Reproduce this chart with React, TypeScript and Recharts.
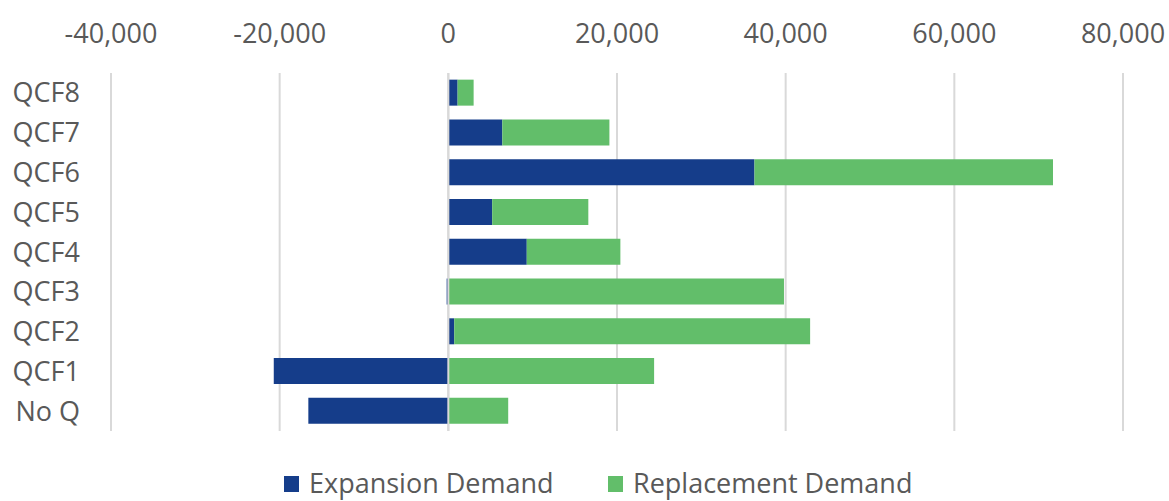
import React from 'react';
import {
  BarChart,
  Bar,
  XAxis,
  YAxis,
  CartesianGrid,
  Legend,
  ReferenceLine,
} from 'recharts';

const categories = ['QCF8', 'QCF7', 'QCF6', 'QCF5', 'QCF4', 'QCF3', 'QCF2', 'QCF1', 'No Q'];
const expansionDemand = [1100, 6400, 36300, 5200, 9300, -200, 700, -20700, -16600];
const replacementDemand = [1900, 12700, 35400, 11400, 11100, 39800, 42200, 24400, 7100];
const xTicks = [-40000, -20000, 0, 20000, 40000, 60000, 80000];

const seriesNames = ['Expansion Demand', 'Replacement Demand'];
const BLUE = '#153D8A';
const GREEN = '#62BE6A';
const TEXT = '#595959';
const GRID = '#D9D9D9';
const FONT = '"Open Sans", sans-serif';

const data = categories.map((name, i) => ({
  name,
  expansion: expansionDemand[i],
  replacement: replacementDemand[i],
}));

const fmt = (v: number) => v.toLocaleString('en-US');

const LegendContent = () => (
  <div style={{ position: 'relative', width: 1169, height: 36, fontFamily: FONT, fontSize: 27, color: TEXT }}>
    {[
      { label: seriesNames[0], color: BLUE, left: 284 },
      { label: seriesNames[1], color: GREEN, left: 608 },
    ].map((it) => (
      <div key={it.label} style={{ position: 'absolute', left: it.left, top: 0, height: 36, display: 'flex', alignItems: 'center' }}>
        <span style={{ display: 'inline-block', width: 15, height: 16, background: it.color, marginRight: 10, marginTop: 2 }} />
        <span style={{ lineHeight: '36px', whiteSpace: 'nowrap' }}>{it.label}</span>
      </div>
    ))}
  </div>
);

export default function App() {
  return (
    <div style={{ position: 'absolute', left: 0, top: 0, width: 1169, height: 501, background: '#fff' }}>
      <BarChart
        width={1169}
        height={501}
        data={data}
        layout="vertical"
        stackOffset="sign"
        barCategoryGap="16.7%"
        margin={{ top: 0, right: 46, left: 0, bottom: 34 }}
      >
        <CartesianGrid horizontal={false} stroke={GRID} strokeWidth={2} />
        <XAxis
          type="number"
          orientation="top"
          domain={[-40000, 80000]}
          ticks={xTicks}
          tickFormatter={fmt}
          axisLine={false}
          tickLine={false}
          tickSize={0}
          tickMargin={30}
          height={73}
          interval={0}
          allowDataOverflow
          tick={{ fill: TEXT, fontSize: 27, fontFamily: FONT }}
        />
        <YAxis
          type="category"
          dataKey="name"
          axisLine={false}
          tickLine={false}
          tickSize={0}
          tickMargin={31}
          width={111}
          interval={0}
          tick={{ fill: TEXT, fontSize: 27, fontFamily: FONT }}
        />
        <Bar dataKey="expansion" name={seriesNames[0]} stackId="a" fill={BLUE} isAnimationActive={false} />
        <Bar dataKey="replacement" name={seriesNames[1]} stackId="a" fill={GREEN} isAnimationActive={false} />
        <ReferenceLine x={0} stroke={GRID} strokeWidth={2} />
        <Legend
          verticalAlign="bottom"
          height={36}
          content={<LegendContent />}
          wrapperStyle={{ left: 0, width: 1169, top: 465, bottom: 'auto' }}
        />
      </BarChart>
    </div>
  );
}
